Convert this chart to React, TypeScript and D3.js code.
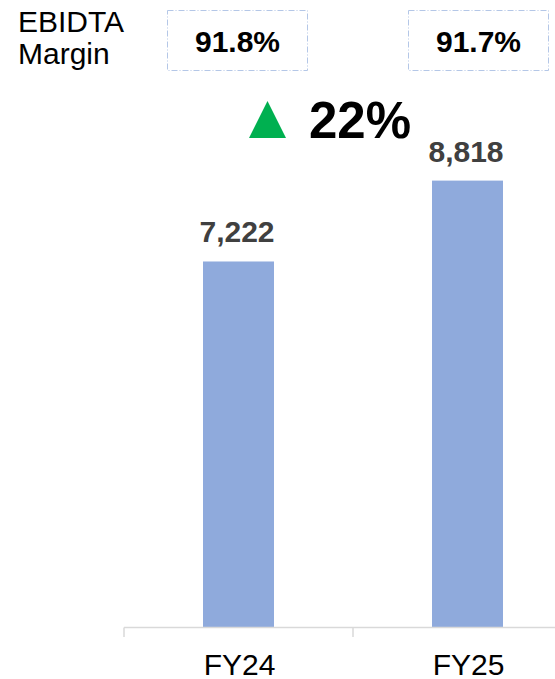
import React from "react";
import * as d3 from "d3";

const categories = ["FY24", "FY25"];
const ebitda = [7222, 8818];
const margins = ["91.8%", "91.7%"];
const growthLabel = "22%";
const rowTitle = ["EBIDTA", "Margin"];

const W = 555;
const H = 679;
const FONT = "Arial, 'Liberation Sans', Helvetica, sans-serif";

export default function App() {
  const x = d3.scaleBand<string>().domain(categories).range([124, 582]).padding(0);
  const y = d3.scaleLinear().domain([0, 10000]).range([627.5, 120.7]);
  const bw = x.bandwidth() * 0.31;
  const fmt = d3.format(",");
  const boxOffsets = [-1, 11];
  const mid = x(categories[1])!; // boundary between the two bands

  return (
    <div style={{ position: "absolute", left: 0, top: 0 }}>
      <svg width={W} height={H} style={{ display: "block" }} fontFamily={FONT}>
        <rect width={W} height={H} fill="#fff" />
        {/* Row title */}
        {rowTitle.map((t, i) => (
          <text key={t} x={18} y={32 + i * 32} fontSize={30} fill="#000">
            {t}
          </text>
        ))}
        {/* Margin boxes */}
        {categories.map((c, i) => {
          const cx = x(c)! + x.bandwidth() / 2 + boxOffsets[i];
          return (
            <g key={"m" + c}>
              <rect
                x={cx - 70}
                y={10.5}
                width={140}
                height={60}
                fill="none"
                stroke="#B4C7E7"
                strokeWidth={1}
                strokeDasharray="6 2 1 2"
              />
              <text x={cx} y={52} textAnchor="middle" fontSize={30} fontWeight="bold" fill="#000">
                {margins[i]}
              </text>
            </g>
          );
        })}
        {/* Growth annotation */}
        <path
          d={`M${mid - 104},138 L${mid - 67},138 L${mid - 85.5},101 Z`}
          fill="#00B050"
        />
        <text x={mid - 44} y={138} fontSize={51} fontWeight="bold" fill="#000">
          {growthLabel}
        </text>
        {/* Bars */}
        {categories.map((c, i) => {
          const cx = x(c)! + x.bandwidth() / 2;
          return (
            <g key={c}>
              <rect
                x={cx - bw / 2}
                y={y(ebitda[i])}
                width={bw}
                height={y(0) - y(ebitda[i])}
                fill="#8FAADC"
              />
              <text
                x={cx - 1.5}
                y={y(ebitda[i]) - 19}
                textAnchor="middle"
                fontSize={30}
                fontWeight="bold"
                fill="#404040"
              >
                {fmt(ebitda[i])}
              </text>
            </g>
          );
        })}
        {/* Axis */}
        <line x1={124} x2={W} y1={627.5} y2={627.5} stroke="#D9D9D9" strokeWidth={1.5} />
        {[...categories.map((c) => x(c)!), 582].map((tx, i) => (
          <line key={i} x1={tx} x2={tx} y1={627.5} y2={637} stroke="#D9D9D9" strokeWidth={1.5} />
        ))}
        {categories.map((c) => (
          <text
            key={"l" + c}
            x={x(c)! + x.bandwidth() / 2 + 1}
            y={675}
            textAnchor="middle"
            fontSize={30}
            fill="#000"
          >
            {c}
          </text>
        ))}
      </svg>
    </div>
  );
}
